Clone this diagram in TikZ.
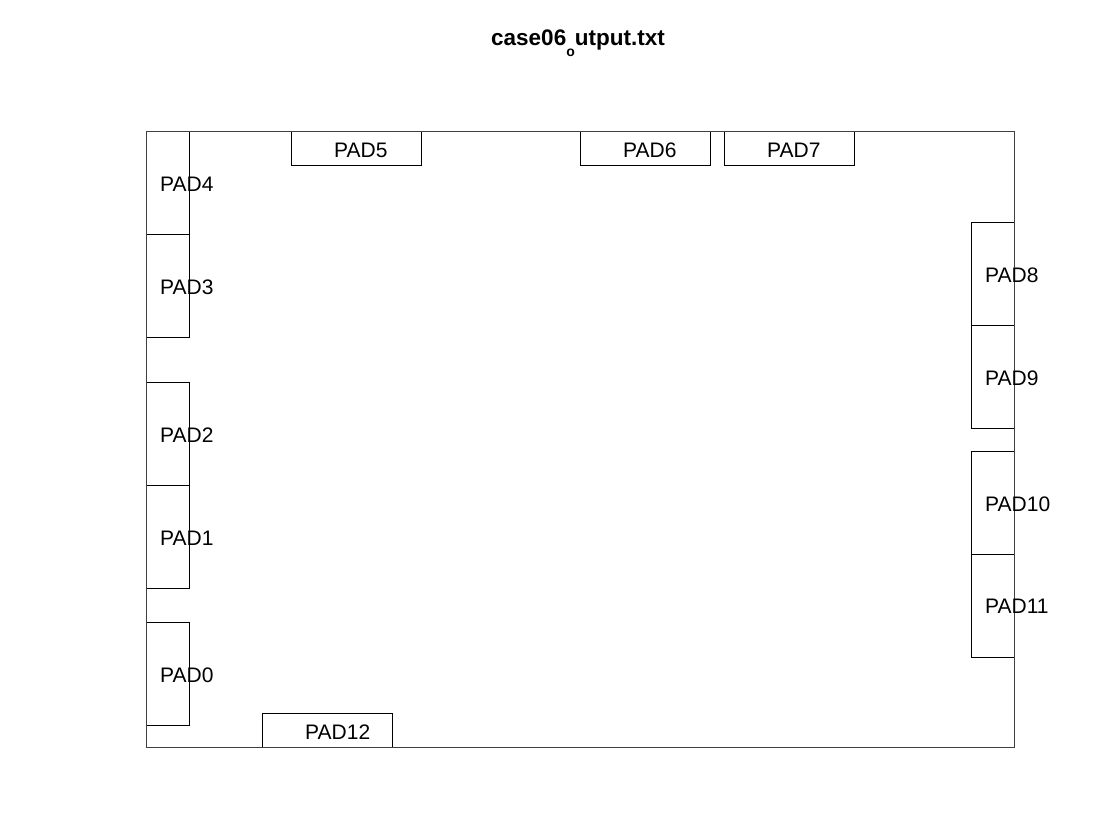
\documentclass[tikz,border=0pt]{standalone}
\usepackage{fontspec}
\setmainfont{Liberation Sans}
\newcommand{\padfont}{\fontsize{21pt}{25pt}\selectfont}
\newcommand{\titlefont}{\fontsize{22.5pt}{27pt}\selectfont\bfseries}
\tikzset{
  padv/.style={draw, minimum width=43pt, minimum height=103pt, inner sep=0pt, line width=0.7pt},
  padh/.style={draw, minimum width=130pt, minimum height=34pt, inner sep=0pt, line width=0.7pt},
  padname/.style={anchor=west, inner sep=0pt, font=\padfont}
}
\begin{document}
\begin{tikzpicture}[x=1pt, y=-1pt]
                \useasboundingbox (0,0) rectangle (1120,840);

                \node (title) at (491, 46) [anchor=base west, inner sep=0pt, font=\titlefont]
                    {case06\raisebox{-11pt}{\fontsize{14pt}{14pt}\selectfont o}utput.txt};

                % left side
                \node (pad4) at (167.5, 182.5) [padv] {};
                \node (pad3) at (167.5, 285.5) [padv] {};
                \node (pad2) at (167.5, 433.5) [padv] {};
                \node (pad1) at (167.5, 536.5) [padv] {};
                \node (pad0) at (167.5, 673.5) [padv] {};

                % top and bottom
                \node (pad5) at (356, 148) [padh] {};
                \node (pad6) at (645, 148) [padh] {};
                \node (pad7) at (789, 148) [padh] {};
                \node (pad12) at (327, 730.5) [padh] {};

                % right side
                \node (pad8) at (992.5, 273.5) [padv] {};
                \node (pad9) at (992.5, 376.5) [padv] {};
                \node (pad10) at (992.5, 502.5) [padv] {};
                \node (pad11) at (992.5, 605.5) [padv] {};

                \node (chip) at (580, 439) [draw=black!75, line width=0.9pt, minimum width=868pt, minimum height=616pt, inner sep=0pt] {};

                \node (l4) at (160, 184) [padname] {PAD4};
                \node (l3) at (160, 287) [padname] {PAD3};
                \node (l2) at (160, 435) [padname] {PAD2};
                \node (l1) at (160, 538) [padname] {PAD1};
                \node (l0) at (160, 675) [padname] {PAD0};
                \node (l5) at (334, 150) [padname] {PAD5};
                \node (l6) at (623, 150) [padname] {PAD6};
                \node (l7) at (767, 150) [padname] {PAD7};
                \node (l12) at (305, 732) [padname] {PAD12};
                \node (l8) at (985, 275) [padname] {PAD8};
                \node (l9) at (985, 378) [padname] {PAD9};
                \node (l10) at (985, 504) [padname] {PAD10};
                \node (l11) at (985, 606) [padname] {PAD11};
            \end{tikzpicture}
\end{document}
